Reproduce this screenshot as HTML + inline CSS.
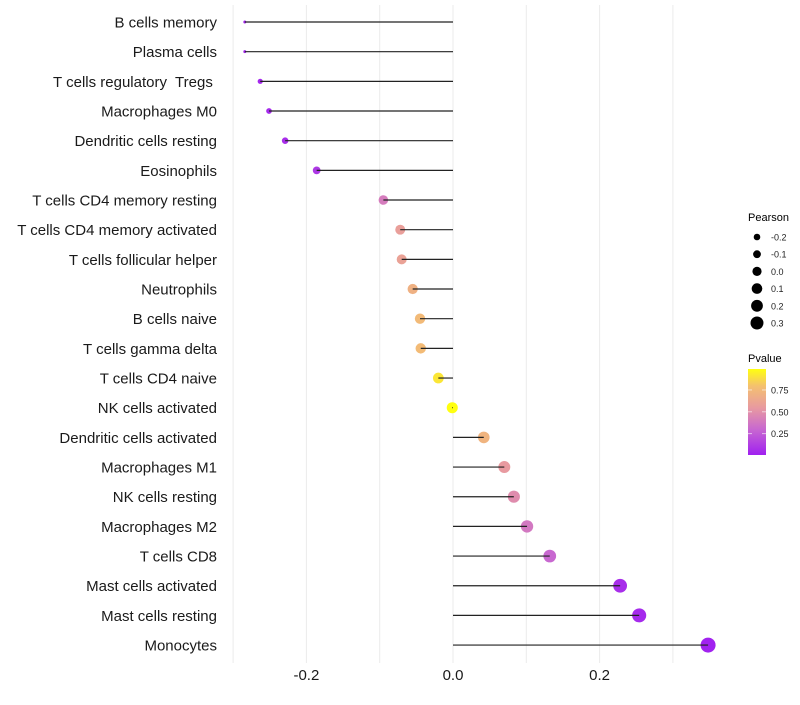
<!DOCTYPE html>
<html><head><meta charset="utf-8"><style>
body{margin:0;background:#fff;font-family:"Liberation Sans",sans-serif}
svg text{font-family:"Liberation Sans",sans-serif;white-space:pre}
</style></head><body>
<svg id="chart" width="800" height="700">
<defs>
<linearGradient id="pg" x1="0" y1="1" x2="0" y2="0">
<stop offset="0" stop-color="#a020f0"/>
<stop offset="0.3" stop-color="#c868d0"/>
<stop offset="0.55" stop-color="#e89aa0"/>
<stop offset="0.8" stop-color="#f4c070"/>
<stop offset="1" stop-color="#ffff10"/>
</linearGradient>
</defs>
<g id="grid"></g><g id="marks"></g><g id="labels"></g><g id="legend"></g>
</svg>
<script>
const categories=["B cells memory","Plasma cells","T cells regulatory  Tregs ","Macrophages M0","Dendritic cells resting","Eosinophils","T cells CD4 memory resting","T cells CD4 memory activated","T cells follicular helper","Neutrophils","B cells naive","T cells gamma delta","T cells CD4 naive","NK cells activated","Dendritic cells activated","Macrophages M1","NK cells resting","Macrophages M2","T cells CD8","Mast cells activated","Mast cells resting","Monocytes"];
const pearson=[-0.284,-0.284,-0.263,-0.251,-0.229,-0.186,-0.095,-0.072,-0.070,-0.055,-0.045,-0.044,-0.020,-0.001,0.042,0.070,0.083,0.101,0.132,0.228,0.254,0.348];
const pvalues=[0.02,0.02,0.03,0.04,0.06,0.10,0.40,0.58,0.60,0.70,0.76,0.77,0.92,1.0,0.72,0.55,0.48,0.38,0.30,0.06,0.04,0.01];
const xTicks=[-0.2,0.0,0.2];
const xTickLabels=["-0.2","0.0","0.2"];
const sizeLegend=["-0.2","-0.1","0.0","0.1","0.2","0.3"];
const pTicks=[0.25,0.5,0.75];
const pTickLabels=["0.25","0.50","0.75"];
const NS="http://www.w3.org/2000/svg";
const x=v=>453+v*733;
const y=i=>22+i*29.67;
const r=v=>1.5+6*Math.sqrt(Math.max(0,(v+0.284)/0.632));
const stops=[[0,[160,32,240]],[0.3,[200,104,208]],[0.55,[232,154,160]],[0.8,[244,192,112]],[1,[255,255,16]]];
function col(p){for(let k=1;k<stops.length;k++){if(p<=stops[k][0]){const a=stops[k-1],b=stops[k],t=(p-a[0])/(b[0]-a[0]);return "rgb("+a[1].map((c,j)=>Math.round(c+(b[1][j]-c)*t)).join(",")+")";}}return "rgb(255,255,16)";}
function mk(tag,attrs,parent){const e=document.createElementNS(NS,tag);for(const k in attrs)e.setAttribute(k,attrs[k]);parent.appendChild(e);return e;}
const grid=document.getElementById('grid'),marks=document.getElementById('marks'),labels=document.getElementById('labels'),legend=document.getElementById('legend');
[-0.3,-0.2,-0.1,0,0.1,0.2,0.3].forEach(v=>{const l=mk('line',{x1:x(v),x2:x(v),y1:5,y2:663,stroke:'#ebebeb','stroke-width':1},grid);

});
categories.forEach((c,i)=>{const t=mk('text',{x:217,y:y(i)+5.5,'text-anchor':'end','font-size':15,fill:'#1a1a1a'},labels);t.textContent=c;


const cc=mk('circle',{cx:x(pearson[i]),cy:y(i),r:r(pearson[i]),fill:col(pvalues[i])},marks);


const ln=mk('line',{x1:x(0),x2:x(pearson[i]),y1:y(i),y2:y(i),stroke:'#222','stroke-width':1.2},marks);

});
xTicks.forEach((v,k)=>{const t=mk('text',{x:x(v),y:680,'text-anchor':'middle','font-size':15,fill:'#1a1a1a'},labels);t.textContent=xTickLabels[k];

});
let t=mk('text',{x:748,y:221,'font-size':11,fill:'#000'},legend);t.textContent="Pearson";


const lr=[3.3,3.9,4.6,5.3,5.9,6.5];
sizeLegend.forEach((s,k)=>{const cy=237+k*17.2;const c=mk('circle',{cx:757,cy:cy,r:lr[k],fill:'#000'},legend);


const tt=mk('text',{x:771,y:cy+3.5,'font-size':9,fill:'#222'},legend);tt.textContent=s;

});
t=mk('text',{x:748,y:362,'font-size':11,fill:'#000'},legend);t.textContent="Pvalue";


const bar=mk('rect',{x:748,y:369,width:18,height:86,fill:'url(#pg)'},legend);


const py=p=>455-(p-0.005)/0.985*86;
pTicks.forEach((p,k)=>{mk('line',{x1:748,x2:752,y1:py(p),y2:py(p),stroke:'#fff','stroke-opacity':0.6},legend);mk('line',{x1:762,x2:766,y1:py(p),y2:py(p),stroke:'#fff','stroke-opacity':0.6},legend);
const tt=mk('text',{x:771,y:py(p)+3.5,'font-size':9,fill:'#222'},legend);tt.textContent=pTickLabels[k];

});
</script>
</body></html>
